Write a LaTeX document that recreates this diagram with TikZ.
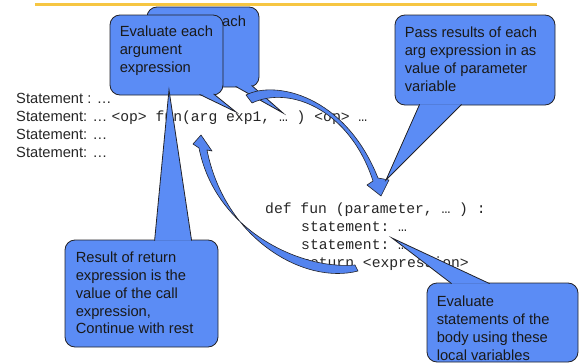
\documentclass[tikz,border=0pt]{standalone}
\usepackage{fontspec}
\setmainfont{Liberation Sans}
\setmonofont{Liberation Mono}
\usetikzlibrary{calc}

\definecolor{callblue}{RGB}{91,140,245}
\definecolor{arrowblue}{RGB}{84,132,238}
\definecolor{callline}{RGB}{34,34,40}
\definecolor{ruleyellow}{RGB}{246,198,66}

\begin{document}
\begin{tikzpicture}[
    x=1pt, y=-1pt,
    callbox/.style={rectangle, draw=callline, fill=callblue, rounded corners=10pt, line width=0.8pt, inner sep=0pt},
    calltail/.style={draw=callline, fill=callblue, line width=0.8pt},
    calltext/.style={anchor=north west, inner sep=0pt, align=left, text=black!90, font=\fontsize{14.7}{17.8}\selectfont},
    stmt/.style={anchor=base west, inner sep=0pt, text=black!85, font=\fontsize{14.7}{17.8}\selectfont},
    code/.style={anchor=base west, inner sep=0pt, text=black!85, font=\fontsize{14.7}{17.8}\selectfont\ttfamily},
    bentarrow/.style={draw=callline, fill=arrowblue, line width=0.6pt, line join=round}
]
\useasboundingbox (0,0) rectangle (579,364);

% Title rule
\draw[ruleyellow, line width=2.5pt] (35,4.5) -- (537,4.5);

% Calling code
\node[stmt] (stmta) at (16,103) {Statement : …};
\node[stmt] (stmtb) at (16,121) {Statement: … \texttt{<op> fun(arg exp1, … ) <op> …}};
\node[stmt] (stmtc) at (16,139) {Statement: …};
\node[stmt] (stmtd) at (16,157) {Statement: …};

% Function definition
\node[code] (defline) at (265,213) {def fun (parameter, … ) :};
\node[code] (bodya) at (301,231) {statement: …};
\node[code] (bodyb) at (301,249) {statement: …};
\node[code] (retline) at (301,267) {return <expression>};

% Tips of the callouts
\coordinate (backtip) at (283,113);
\coordinate (argtip) at (236,112);
\coordinate (rettip) at (169,90);
\coordinate (passtip) at (386,180);
\coordinate (bodytip) at (392,238);
\coordinate (calltip) at (381,196);
\coordinate (backcalltip) at (201,135);

% Hidden callout behind
\node[callbox, minimum width=112, minimum height=80] (backbox) at (203,47) {};
\draw[calltail] ($(backbox.south west)+(89,-1)$) -- (backtip) -- ($(backbox.south west)+(105,-2)$);
\node[calltext] (backtext) at ($(backbox.north west)+(6,9.3)$) {Evaluate each};

% Evaluate arguments
\node[callbox, minimum width=113, minimum height=80] (argbox) at (166.5,55) {};
\draw[calltail] ($(argbox.south west)+(90,-1)$) -- (argtip) -- ($(argbox.south west)+(104,-1.5)$);
\node[calltext] (argtext) at ($(argbox.north west)+(10,11.3)$) {Evaluate each\\argument\\expression};

% Call arrow
\draw[bentarrow] (246,95) .. controls (275,80) and (345,95) .. (378,178)
    -- (389,180) -- (calltip) -- (367,185) -- (373,181)
    .. controls (350,110) and (290,85) .. (252,103) -- cycle;

% Return arrow
\draw[bentarrow] (358,271) .. controls (305,285) and (225,240) .. (207,150)
    -- (212,151) -- (backcalltip) -- (193,144) -- (199,148)
    .. controls (215,230) and (300,270) .. (355,265) -- cycle;

% Return value
\node[callbox, minimum width=153, minimum height=107] (retbox) at (141.5,293.5) {};
\draw[calltail] ($(retbox.north west)+(90,1)$) -- (rettip) -- ($(retbox.north west)+(127,1)$);
\node[calltext] (rettext) at ($(retbox.north west)+(11,12.3)$) {Result of return\\expression is the\\value of the call\\expression,\\Continue with rest};

% Parameter passing
\node[callbox, minimum width=160, minimum height=90] (passbox) at (475,60) {};
\draw[calltail] ($(passbox.south west)+(25,-1)$) -- (passtip) -- ($(passbox.south west)+(67,-1)$);
\node[calltext] (passtext) at ($(passbox.north west)+(10,12.3)$) {Pass results of each\\arg expression in as\\value of parameter\\variable};

% Body evaluation
\node[callbox, minimum width=151, minimum height=79] (bodybox) at (502.5,322.5) {};
\draw[calltail] ($(bodybox.north west)+(25,1)$) -- (bodytip) -- ($(bodybox.north west)+(63,1)$);
\node[calltext] (bodytext) at ($(bodybox.north west)+(10,13.3)$) {Evaluate\\statements of the\\body using these\\local variables};

\end{tikzpicture}
\end{document}
